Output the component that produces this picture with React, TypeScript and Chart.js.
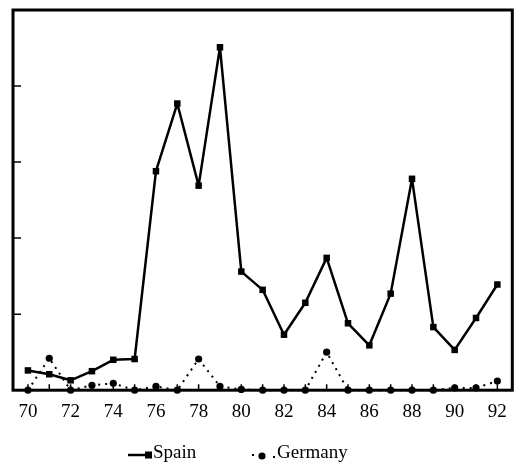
import { useEffect, useRef } from 'react';
import { Chart, registerables } from 'chart.js';

Chart.register(...registerables);

// Years on the horizontal axis (19xx)
const years = [70, 71, 72, 73, 74, 75, 76, 77, 78, 79, 80, 81, 82, 83, 84, 85, 86, 87, 88, 89, 90, 91, 92];
// Series values
const spain = [0.26, 0.21, 0.13, 0.25, 0.4, 0.41, 2.88, 3.77, 2.69, 4.51, 1.56, 1.32, 0.73, 1.15, 1.74, 0.88, 0.59, 1.27, 2.78, 0.83, 0.53, 0.95, 1.39];
const germany = [0, 0.42, 0, 0.065, 0.09, 0, 0.05, 0, 0.41, 0.05, 0.01, 0, 0, 0, 0.5, 0, 0, 0, 0, 0, 0.03, 0.03, 0.12];
// Unlabelled inner tick marks on the value axis
const yTicks = [1, 2, 3, 4];
const yMin = 0;
const yMax = 5;
const xMin = 69.3;
const xMax = 92.7;

const FONT = '"Liberation Serif", "Times New Roman", serif';
const FONT_SIZE = 19;

// Box outline with short inward ticks on both axes
const framePlugin = {
  id: 'frame',
  beforeDatasetsDraw(chart: any) {
    const { ctx, chartArea: a, scales } = chart;
    const x = scales.x;
    const y = scales.y;
    ctx.save();
    ctx.strokeStyle = '#000';
    ctx.lineWidth = 3;
    ctx.strokeRect(a.left, a.top, a.right - a.left, a.bottom - a.top);
    ctx.lineWidth = 1.5;
    ctx.beginPath();
    for (const v of years) {
      const px = x.getPixelForValue(v);
      ctx.moveTo(px, a.bottom);
      ctx.lineTo(px, a.bottom - 6);
    }
    for (const v of yTicks) {
      const py = y.getPixelForValue(v);
      ctx.moveTo(a.left, py);
      ctx.lineTo(a.left + 8, py);
    }
    ctx.stroke();
    ctx.restore();
  },
};

// Key under the axis: line-and-marker sample followed by the series name
const keyPlugin = {
  id: 'seriesKey',
  afterDraw(chart: any) {
    const { ctx } = chart;
    const ds = chart.data.datasets;
    const textY = 453;
    const symY = 455;
    ctx.save();
    ctx.fillStyle = '#000';
    ctx.strokeStyle = '#000';
    ctx.font = `${FONT_SIZE}px ${FONT}`;
    ctx.textBaseline = 'middle';
    ctx.textAlign = 'left';

    // Spain: solid line ending in a square
    const sx = 153;
    ctx.lineWidth = ds[0].borderWidth;
    ctx.beginPath();
    ctx.moveTo(sx - 25, symY);
    ctx.lineTo(sx - 4, symY);
    ctx.stroke();
    ctx.fillRect(sx - 8, symY - 3.5, 7, 7);
    ctx.fillText(ds[0].label, sx, textY);

    // Germany: dot, circle, dot
    const gx = 277;
    ctx.fillRect(gx - 25, symY - 1, 2, 2);
    ctx.beginPath();
    ctx.arc(gx - 15, symY + 1, ds[1].pointRadius, 0, Math.PI * 2);
    ctx.fill();
    ctx.fillRect(gx - 4, symY + 1, 2, 2);
    ctx.fillText(ds[1].label, gx, textY);
    ctx.restore();
  },
};

export default function App() {
  const ref = useRef<HTMLCanvasElement | null>(null);

  useEffect(() => {
    document.body.style.margin = '0';
    const canvas = ref.current;
    if (!canvas) return;

    const chart = new Chart(canvas, {
      type: 'line',
      data: {
        datasets: [
          {
            label: 'Spain',
            data: years.map((yr, i) => ({ x: yr, y: spain[i] })),
            borderColor: '#000',
            backgroundColor: '#000',
            borderWidth: 2.5,
            borderJoinStyle: 'round',
            pointStyle: 'rect',
            pointRadius: 4.6,
            pointBorderWidth: 0,
            tension: 0,
            clip: false as any,
          },
          {
            label: 'Germany',
            data: years.map((yr, i) => ({ x: yr, y: germany[i] })),
            borderColor: '#000',
            backgroundColor: '#000',
            borderWidth: 2,
            borderDash: [2, 5],
            pointStyle: 'circle',
            pointRadius: 3.6,
            pointBorderWidth: 0,
            tension: 0,
            clip: false as any,
          },
        ],
      },
      options: {
        responsive: false,
        animation: false,
        layout: { padding: { left: 13, right: 4, top: 10, bottom: 36 } },
        scales: {
          x: {
            type: 'linear',
            min: xMin,
            max: xMax,
            grid: { display: false, drawTicks: false },
            border: { display: false },
            afterBuildTicks: (s: any) => {
              s.ticks = years.map((v) => ({ value: v }));
            },
            ticks: {
              autoSkip: false,
              maxRotation: 0,
              padding: 10,
              color: '#000',
              font: { family: FONT, size: FONT_SIZE },
              callback: (v: any) => (Number(v) % 2 === 0 ? String(v) : ''),
            },
          },
          y: {
            display: false,
            min: yMin,
            max: yMax,
          },
        },
        plugins: {
          tooltip: { enabled: false },
          legend: { display: false },
        },
      },
      plugins: [framePlugin, keyPlugin],
    });
    return () => chart.destroy();
  }, []);

  return <canvas ref={ref} width={517} height={469} style={{ display: 'block' }} />;
}
